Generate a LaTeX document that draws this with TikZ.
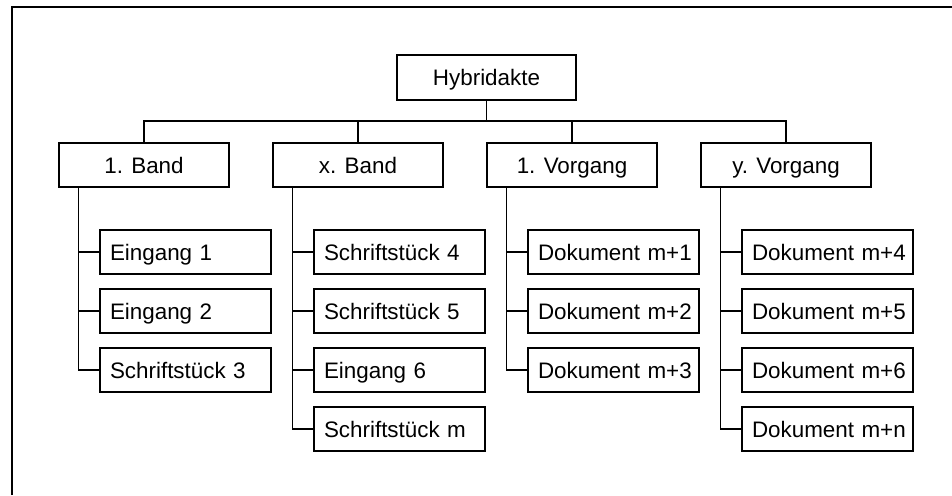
\documentclass[tikz,border=0pt]{standalone}
\usepackage{fontspec}
\setmainfont{Liberation Sans}
\begin{document}
\begin{tikzpicture}[x=1pt,y=-1pt,
  box/.style={draw,line width=1.2pt,minimum height=44pt,inner sep=0pt,
    text height=16pt,text depth=0pt,font=\fontsize{22.4}{27}\selectfont},
  topbox/.style={box,minimum width=170pt,align=center},
  leafbox/.style={box,minimum width=171pt,text width=151pt,align=left},
  link/.style={line width=1.2pt}]
  \useasboundingbox (0,0) rectangle (952,495);
  % frame: top and left edges only
  \draw[line width=2.6pt] (12,495) -- (12,7) -- (952,7);

  % root
  \node[topbox,minimum width=179pt,minimum height=45pt] (hyb) at (486.5,77.5) {Hybridakte};
  \coordinate (bus) at (0,121);

  % second level
  \foreach \n/\x/\t in {p1/144/{1. Band},p2/358/{x. Band},p3/572/{1. Vorgang},p4/786/{y. Vorgang}}
    \node[topbox] (\n) at (\x,165) {\t};

  % leaves
  \foreach \n/\x/\y/\t in {
      a1/144/252/{Eingang 1}, a2/144/311/{Eingang 2}, a3/144/370/{Schriftstück 3},
      b1/358/252/{Schriftstück 4}, b2/358/311/{Schriftstück 5}, b3/358/370/{Eingang 6}, b4/358/429/{Schriftstück m},
      c1/572/252/{Dokument m+1}, c2/572/311/{Dokument m+2}, c3/572/370/{Dokument m+3},
      d1/786/252/{Dokument m+4}, d2/786/311/{Dokument m+5}, d3/786/370/{Dokument m+6}, d4/786/429/{Dokument m+n}}
    \node[leafbox] (\n) at (\x+41.5,\y) {\mbox{\t}};

  % root to second level
  \draw[link] (hyb.south) -- (hyb.south |- bus);
  \draw[link] (p1.north) -- (p1.north |- bus) -- (p4.north |- bus) -- (p4.north);
  \draw[link] (p2.north) -- (p2.north |- bus);
  \draw[link] (p3.north) -- (p3.north |- bus);

  % trunks to leaves
  \foreach \p/\last/\others in {p1/a3/{a1,a2}, p2/b4/{b1,b2,b3}, p3/c3/{c1,c2}, p4/d4/{d1,d2,d3}}{
    \coordinate (t-\p) at ([xshift=20]\p.south west);
    \draw[link] (t-\p) |- (\last.west);
    \foreach \c in \others
      \draw[link] (\c.west) -- (\c.west -| t-\p);
  }
\end{tikzpicture}
\end{document}
